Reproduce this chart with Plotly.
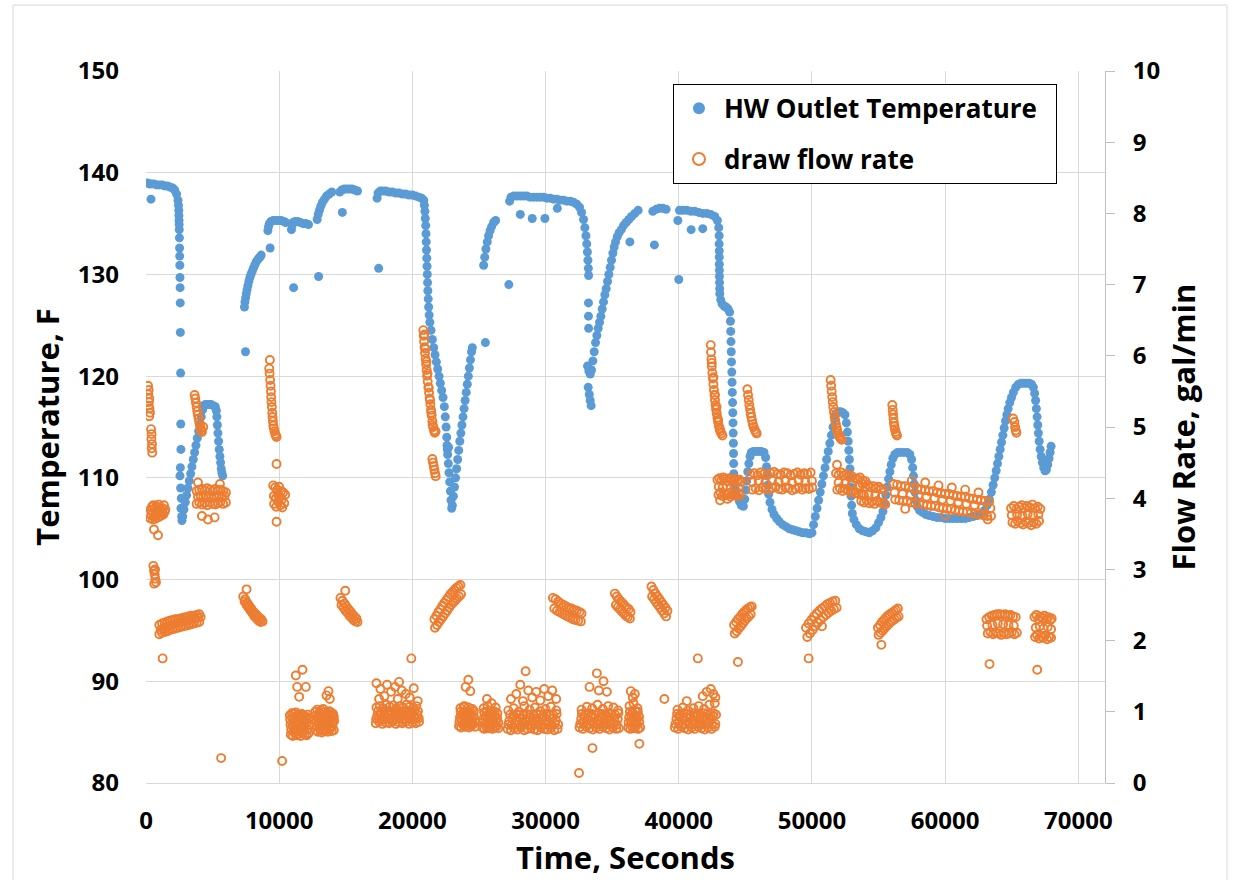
import plotly.graph_objects as go

# ---------------- HW outlet temperature (time s, temperature F) ----------------
TEMP_SEG_1 = [(100,139.0),(250,138.9),(375,137.4),(400,138.9),(600,138.9),(800,138.8),(1000,138.8),(1200,138.8),(1400,138.7),(1600,138.7),(1800,138.6),(2000,138.5),(2150,138.3),(2300,137.9),(2400,137.3),
    (2440,136.8),(2460,136.3),(2470,135.8),(2480,135.3),(2490,134.9),(2500,134.4),(2510,133.6),(2520,132.6),(2530,131.8),(2540,130.9),(2550,129.7),(2560,128.7),(2570,127.2),(2580,124.3),(2600,120.3),(2610,115.3),(2620,112.8),
    (2550,110.2),(2600,109.0),(2650,108.0),(2620,107.0),(2680,106.2),(2700,105.8),(2580,111.0),
    (2750,106.2),(2850,106.9),(2950,107.6),(3050,108.3),(3150,109.0),(3250,109.7),(3350,110.4),(3450,111.1),(3550,111.8),(3650,112.5),(3750,113.2),(3850,113.9),(3950,114.6),(4050,115.3),(4150,116.0),(4250,116.7),(4320,117.1),
    (4450,117.2),(4600,117.2),(4750,117.2),(4900,117.2),(5050,117.1),(5200,117.0),(5280,116.6),
    (5320,116.0),(5360,115.2),(5400,114.4),(5450,113.6),(5500,112.8),(5550,112.1),(5600,111.5),(5650,110.9),(5700,110.5),(5760,110.2)]

TEMP_SEG_2 = [(7390,126.8),(7470,122.4),(7430,127.3),(7480,127.7),(7530,128.1),(7590,128.5),(7650,128.9),(7720,129.3),(7800,129.7),(7880,130.0),(7970,130.3),(8060,130.6),(8160,130.9),(8260,131.2),(8360,131.4),(8460,131.6),(8560,131.7),(8650,131.9),
    (9320,132.6),
    (9150,134.3),(9200,134.7),(9260,135.0),(9380,135.2),(9550,135.3),(9750,135.3),(9950,135.3),(10150,135.3),(10350,135.2),(10480,135.1),
    (11080,128.7),
    (10920,134.4),(10970,134.8),(11050,135.1),(11200,135.2),(11400,135.2),(11600,135.1),(11800,135.0),(12000,135.0),(12200,134.9),
    (12960,129.8),
    (12850,135.4),(12930,135.9),(13020,136.3),(13120,136.7),(13250,137.1),(13400,137.4),(13550,137.7),(13750,137.9),(13950,138.1),
    (14740,136.1),
    (14550,138.1),(14700,138.3),(14880,138.4),(15080,138.4),(15280,138.4),(15480,138.4),(15680,138.3),(15880,138.2),
    (17470,130.6),
    (17350,137.5),(17420,138.0),(17600,138.2),(17800,138.2),(18000,138.2),(18250,138.1),(18500,138.1),(18750,138.0),(19000,138.0),(19250,137.9),(19500,137.9),(19750,137.8),(20000,137.8),(20250,137.7),(20500,137.6),(20700,137.5)]

TEMP_SEG_3 = [(20850,137.3),(20900,136.8),(20940,136.2),(20970,135.5),(21000,134.8),(21020,134.0),(21040,133.2),(21060,132.4),(21080,131.6),(21100,130.8),(21120,130.0),(21140,129.2),(21160,128.4),(21190,127.6),(21220,126.8),(21260,126.0),(21310,125.3),
    (21400,124.5),(21500,123.6),(21600,122.8),(21700,122.1),(21800,121.4),(21900,120.7),(22000,120.0),(22100,119.3),(22200,118.6),(22300,117.9),(22400,117.0),(22470,116.0),(22530,115.0),(22580,114.0),
    (22600,113.2),(22650,112.3),(22700,111.4),(22750,110.5),(22800,109.6),(22850,108.7),(22900,107.8),(22950,107.0),(22620,112.8),(22720,113.0),
    (23000,107.3),(23080,108.2),(23160,109.1),(23240,110.0),(23320,110.9),(23400,111.8),(23480,112.7),(23560,113.6),(23640,114.4),(23720,115.2),(23800,116.0),(23880,116.8),(23960,117.6),(24040,118.4),(24120,119.2),(24200,120.0),(24280,120.8),(24360,121.6),(24440,122.4),(24500,122.8),
    (25480,123.3),
    (25350,130.9),(25430,131.7),(25520,132.5),(25620,133.2),(25720,133.8),(25830,134.3),(25950,134.7),(26100,135.1),(26250,135.3),
    (27240,129.0),
    (27300,137.2),(27400,137.6),(27600,137.7),(27850,137.7),(28100,137.7),(28350,137.7),(28600,137.7),(28850,137.6),(29100,137.6),(29350,137.6),(29600,137.6),(29850,137.6),(30100,137.5),(30350,137.5),(30600,137.4),(30850,137.4),(31100,137.3),(31350,137.3),(31600,137.2),(31850,137.2),(32100,137.1),(32350,136.9),(32550,136.6),(32700,136.1),(32850,135.4),(32950,134.6),(33030,133.8),(33090,133.0),(33140,132.2),(33180,131.4),(33210,130.6),(33230,129.9),
    (28100,135.9),(29000,135.5),(29950,135.5),(30880,136.5),
    (33220,127.2),(33220,125.9),(33230,124.7),
    (33150,121.0),(33250,120.5),(33350,120.2),(33200,118.9),(33280,118.2),(33350,117.6),(33420,117.1),
    (33450,120.6),(33550,121.5),(33650,122.4),(33750,123.3),(33850,124.0),(33950,124.7),(34050,125.3),(34150,125.9),(34250,126.6),(34350,127.3),(34450,128.0),(34550,128.6),(34650,129.3),(34750,130.0),(34850,130.7),(34950,131.4),(35050,132.1),(35150,132.7),(35250,133.2),(35380,133.7),(35520,134.1),(35680,134.4),(35850,134.8),(36050,135.1),(36250,135.4),(36450,135.7),(36700,136.0),(36950,136.3),
    (36330,133.2),(38170,132.9),
    (38050,136.2),(38300,136.4),(38550,136.5),(38800,136.5),(39050,136.4),
    (40000,129.5),
    (39930,135.3),(40050,136.3),(40300,136.3),(40600,136.3),(40900,136.2),(41200,136.2),(41500,136.1),(41800,136.0),(42100,136.0),(42400,135.9),(42700,135.7),(42900,135.3),(43000,134.6),
    (40930,134.4),(41800,134.5),
    (43030,133.8),(43030,133.0),(43040,132.3),(43040,131.7),(43040,131.0),(43050,130.4),(43050,129.8),(43060,129.2),(43070,128.6),(43080,128.1),(43150,127.5),(43250,127.1),(43400,126.9),(43550,126.8),(43700,126.6),(43820,126.3),
    (43880,125.4),(43900,124.4),(43920,123.4),(43940,122.4),(43960,121.4),(43980,120.4),(44000,119.4),(44020,118.4),(44040,117.4),(44055,116.4),(44070,115.4),(44085,114.4),(44100,113.4),(44110,112.4),(44120,111.4),(44130,110.4),(44150,109.5)]

TEMP_SEG_4 = [(44250,108.8),(44400,108.2),(44550,107.7),(44700,107.3),(44850,107.2),(44950,107.9),(45030,108.8),(45100,109.7),(45180,110.6),(45260,111.4),(45350,112.1),(45450,112.5),(45600,112.6),(45800,112.6),(46000,112.6),(46200,112.6),(46400,112.5),(46520,112.0),(46590,111.1),(46640,110.2),(46690,109.3),(46750,108.4),(46850,107.6),(47000,106.9),(47150,106.4),(47350,106.0),(47550,105.7),(47800,105.4),(48050,105.2),(48300,105.0),(48550,104.9),(48800,104.8),(49050,104.7),(49300,104.6),(49550,104.6),(49800,104.5),(50000,104.6),
    (50120,105.4),(50250,106.2),(50380,107.0),(50500,107.8),(50620,108.6),(50740,109.4),(50860,110.2),(50980,111.0),(51100,111.8),(51220,112.6),(51340,113.4),(51460,114.2),(51580,115.0),(51700,115.8),(51820,116.3),(51980,116.5),(52150,116.5),(52320,116.4),(52480,116.2),(52580,115.4),(52660,114.5),(52720,113.6),(52770,112.7),(52810,111.8),(52850,110.9),(52880,110.0),(52910,109.1),(52940,108.2),(52980,107.3),(53030,106.5),(53150,105.9),(53330,105.4),(53550,105.0),(53800,104.8),(54050,104.7),(54300,104.6),(54550,104.8),(54800,105.1),(55000,105.6),(55180,106.1),(55330,106.7),(55450,107.5),(55550,108.3),(55650,109.1),(55750,109.9),(55850,110.6),(55950,111.3),(56070,111.9),(56220,112.3),(56420,112.5),(56650,112.5),(56900,112.5),(57150,112.5),(57350,112.3),(57480,111.8),(57560,111.0),(57620,110.2),(57670,109.4),(57720,108.6),(57790,107.8),(57900,107.2),(58080,106.8),(58300,106.6),(58550,106.4),(58800,106.3),(59100,106.2),(59400,106.1),(59700,106.1),(60000,106.0),(60300,106.0),(60600,106.0),(60900,106.0),(61200,106.0),(61500,106.0),(61800,106.1),(62100,106.2),(62400,106.3),(62700,106.5),(62950,106.8),(63150,107.3),(63320,107.9),(63470,108.6),(63600,109.3),(63720,110.0),(63830,110.7),(63930,111.4),(64030,112.1),(64130,112.8),(64230,113.5),(64330,114.2),(64430,114.9),(64530,115.6),(64630,116.2),(64730,116.8),(64850,117.4),(64980,117.9),(65120,118.4),(65300,118.9),(65500,119.2),(65700,119.3),(65900,119.3),(66100,119.3),(66300,119.3),(66480,119.2),(66620,118.9),(66720,118.3),(66790,117.6),(66850,116.8),(66900,116.0),(66950,115.2),(67000,114.4),(67060,113.6),(67130,112.8),(67210,112.1),(67300,111.5),(67400,111.0),(67500,110.7),(67600,110.8),(67700,111.3),(67800,111.9),(67880,112.5),(67950,113.1)]

# ---------------- draw flow rate (time s, gal/min) ----------------
FLOW_A = [
    (150,5.58),(200,5.52),(170,5.46),(250,5.40),(220,5.35),(190,5.30),(260,5.26),(300,5.20),(240,5.15),(380,4.97),(420,4.90),(400,4.83),(450,4.76),(430,4.70),(470,4.64),
    (250,3.78),(350,3.84),(450,3.88),(550,3.90),(650,3.86),(750,3.82),(850,3.88),(950,3.91),(1050,3.85),(1150,3.80),(1250,3.86),(1350,3.90),(1450,3.84),
    (300,3.72),(400,3.76),(500,3.70),(600,3.74),(700,3.71),(800,3.76),(900,3.73),(1000,3.78),(1100,3.75),(1200,3.79),(1300,3.77),(1400,3.81),
    (600,3.56),(900,3.48),
    (550,3.05),(600,2.98),(650,2.93),(700,2.87),(750,2.82),(620,2.80),(680,3.00),
    (1000,2.22),(1200,2.24),(1400,2.25),(1600,2.27),(1800,2.28),(2000,2.29),(2200,2.30),(2400,2.30),(2600,2.31),(2800,2.32),(3000,2.33),(3200,2.34),(3400,2.35),(3600,2.35),(3800,2.36),(4000,2.37),
    (1000,2.09),(1200,2.11),(1400,2.12),(1600,2.13),(1800,2.15),(2000,2.16),(2200,2.17),(2400,2.18),(2600,2.19),(2800,2.20),(3000,2.21),(3200,2.22),(3400,2.23),(3600,2.24),(3800,2.25),(4000,2.26),
    (1100,2.15),(1300,2.17),(1500,2.19),(1700,2.20),(1900,2.22),(2100,2.23),(2300,2.24),(2500,2.25),(2700,2.26),(2900,2.27),(3100,2.28),(3300,2.29),(3500,2.30),(3700,2.31),(3900,2.32),(4100,2.33),
    (1250,1.75),
    (3650,5.45),(3700,5.40),(3750,5.34),(3800,5.28),(3850,5.22),(3900,5.17),(3950,5.12),(4000,5.07),(4050,5.02),(4100,4.98),(4150,4.95),(4200,4.93),(4300,5.00),
    (3800,4.10),(4000,4.12),(4200,4.13),(4400,4.11),(4600,4.14),(4800,4.12),(5000,4.10),(5200,4.13),(5400,4.11),(5600,4.12),(5800,4.10),(6000,4.08),
    (3800,3.92),(4000,3.94),(4200,3.91),(4400,3.93),(4600,3.90),(4800,3.94),(5000,3.92),(5200,3.91),(5400,3.93),(5600,3.95),(5800,3.92),(6000,3.94),
    (3900,4.02),(4100,4.03),(4300,4.01),(4500,4.04),(4700,4.02),(4900,4.01),(5100,4.03),(5300,4.02),(5500,4.04),(5700,4.01),(5900,4.03),
    (4200,3.75),(4650,3.70),(5150,3.73),(3900,4.22),(5550,4.20),
    (7300,2.62),(7450,2.58),(7600,2.53),(7750,2.49),(7900,2.45),(8050,2.41),(8200,2.38),(8350,2.35),(8500,2.32),(8650,2.30),
    (7400,2.55),(7550,2.50),(7700,2.46),(7850,2.42),(8000,2.38),(8150,2.34),(8300,2.31),(8450,2.28),(8600,2.26),(8750,2.27),(7550,2.72),
    (9300,5.94),(9250,5.82),(9280,5.75),(9320,5.66),(9350,5.58),(9380,5.50),(9400,5.42),(9420,5.35),(9450,5.28),(9480,5.20),(9500,5.14),(9530,5.08),(9560,5.02),(9600,4.98),(9650,4.94),(9700,4.90),(9750,4.88),(9800,4.86),
    (9800,4.48),
    (9550,4.18),(9700,4.15),(9850,4.12),(10000,4.16),(10150,4.10),(10300,4.08),(10450,4.05),
    (9620,3.92),(9780,3.88),(9920,3.95),(10080,3.90),(10230,3.87),(10380,3.93),
    (9600,4.03),(9750,4.00),(9900,4.05),(10050,4.02),(10200,3.98),(9800,3.67),
    (10800,0.95),(10950,0.98),(11100,0.97),(11250,0.99),(11400,0.96),(11550,0.94),(11700,0.97),(11850,0.95),(12000,0.93),(12150,0.96),(12250,0.92),
    (10870,0.68),(11020,0.66),(11170,0.70),(11320,0.67),(11470,0.69),(11620,0.66),(11770,0.70),(11920,0.68),(12070,0.67),(12200,0.70),
    (10850,0.82),(11000,0.80),(11150,0.84),(11300,0.81),(11450,0.83),(11600,0.79),(11750,0.82),(11900,0.80),(12050,0.84),(12200,0.81),
    (11250,1.51),(11750,1.59),(11350,1.35),(12000,1.35),(11500,1.21),
    (12700,1.00),(12850,1.03),(13000,0.99),(13150,1.02),(13300,1.04),(13450,1.00),(13600,0.98),(13750,1.01),(13900,0.99),(14050,0.97),
    (12750,0.74),(12900,0.72),(13050,0.75),(13200,0.71),(13350,0.73),(13500,0.74),(13650,0.72),(13800,0.75),(13950,0.73),(14100,0.74),
    (12780,0.87),(12930,0.85),(13080,0.88),(13230,0.86),(13380,0.89),(13530,0.87),(13680,0.85),(13830,0.88),(13980,0.86),(14130,0.87),
    (13550,1.23),(13800,1.18),(13700,1.29),
    (14600,2.60),(14750,2.56),(14900,2.52),(15050,2.48),(15200,2.44),(15350,2.41),(15500,2.37),(15650,2.34),(15800,2.31),
    (14680,2.50),(14830,2.46),(14980,2.42),(15130,2.39),(15280,2.35),(15430,2.32),(15580,2.29),(15730,2.27),(15880,2.26),(14960,2.70),
    (17250,0.84),(17500,0.86),(17750,0.83),(18000,0.85),(18250,0.84),(18500,0.86),(18750,0.83),(19000,0.85),(19250,0.84),(19500,0.86),(19750,0.83),(20000,0.85),(20250,0.84),(20500,0.86),
    (17370,0.95),(17620,0.97),(17870,0.94),(18120,0.96),(18370,0.98),(18620,0.95),(18870,0.97),(19120,0.94),(19370,0.96),(19620,0.95),(19870,0.97),(20120,0.94),(20370,0.96),
    (17300,1.06),(17550,1.08),(17800,1.05),(18050,1.10),(18300,1.07),(18550,1.09),(18800,1.05),(19050,1.08),(19300,1.06),(19550,1.10),(19800,1.07),(20050,1.05),(20300,1.08),
    (17300,1.40),(17600,1.32),(17900,1.22),(18100,1.38),(18400,1.28),(18700,1.35),(18900,1.18),(19200,1.30),(19500,1.25),(19800,1.20),(20100,1.33),(20400,1.15),(17500,1.18),(19000,1.42),
    (19920,1.75),(5640,0.35),(10220,0.31)]

FLOW_B = [
    (20820,6.36),(20850,6.28),(20880,6.20),(20910,6.12),(20950,6.04),(20990,5.96),(21030,5.88),(21070,5.80),(21110,5.72),(21150,5.64),(21200,5.56),(21250,5.48),(21300,5.40),(21350,5.32),(21400,5.24),(21450,5.16),(21500,5.08),(21560,5.00),(21620,4.95),(21680,4.92),(21740,4.94),
    (20900,6.30),(20980,6.10),(21060,5.92),(21140,5.75),(21230,5.55),(21320,5.38),(21420,5.20),(21520,5.03),
    (21500,4.55),(21550,4.50),(21600,4.45),(21650,4.40),(21700,4.35),(21750,4.31),
    (21650,2.30),(21800,2.35),(21950,2.40),(22100,2.44),(22250,2.49),(22400,2.53),(22550,2.57),(22700,2.61),(22850,2.65),(23000,2.68),(23150,2.71),(23300,2.74),(23450,2.76),(23600,2.78),
    (21700,2.18),(21850,2.22),(22000,2.26),(22150,2.30),(22300,2.34),(22450,2.38),(22600,2.42),(22750,2.46),(22900,2.50),(23050,2.53),(23200,2.56),(23350,2.59),(23500,2.62),(23650,2.65),
    (23500,0.80),(23650,0.78),(23800,0.82),(23950,0.79),(24100,0.81),(24250,0.78),(24400,0.80),(24550,0.82),(24700,0.79),
    (23570,0.92),(23720,0.95),(23870,0.93),(24020,0.96),(24170,0.94),(24320,0.92),(24470,0.95),(24620,0.93),
    (23600,1.05),(23900,1.08),(24200,1.06),(24500,1.04),(24000,1.35),(24350,1.29),(23850,1.07),(24200,1.45),
    (25250,0.78),(25400,0.76),(25550,0.79),(25700,0.77),(25850,0.80),(26000,0.76),(26150,0.78),(26300,0.79),(26450,0.77),
    (25320,0.90),(25470,0.93),(25620,0.91),(25770,0.94),(25920,0.92),(26070,0.90),(26220,0.93),(26370,0.91),
    (25350,1.05),(25650,1.08),(25950,1.12),(26250,1.06),(25600,1.18),
    (27150,0.76),(27400,0.74),(27650,0.77),(27900,0.75),(28150,0.78),(28400,0.74),(28650,0.76),(28900,0.77),(29150,0.75),(29400,0.74),(29650,0.78),(29900,0.76),(30150,0.75),(30400,0.77),(30650,0.74),(30900,0.76),
    (27270,0.87),(27520,0.90),(27770,0.88),(28020,0.91),(28270,0.86),(28520,0.89),(28770,0.92),(29020,0.88),(29270,0.90),(29520,0.87),(29770,0.91),(30020,0.89),(30270,0.86),(30520,0.90),(30770,0.88),
    (27200,1.02),(27600,1.05),(28000,1.00),(28400,1.08),(28800,1.03),(29200,1.06),(29600,1.01),(30000,1.04),(30400,1.07),(30800,1.02),
    (27400,1.18),(27800,1.25),(28300,1.15),(28500,1.57),(28700,1.30),(29000,1.20),(29300,1.28),(29600,1.16),(29900,1.32),(30200,1.22),(30500,1.30),(30800,1.18),(28100,1.38),
    (30550,2.60),(30750,2.58),(30950,2.55),(31150,2.52),(31350,2.50),(31550,2.48),(31750,2.46),(31950,2.45),(32150,2.43),(32350,2.42),(32550,2.40),(32700,2.38),
    (30650,2.45),(30850,2.42),(31050,2.40),(31250,2.38),(31450,2.36),(31650,2.34),(31850,2.32),(32050,2.30),(32250,2.29),(32450,2.28),(32650,2.27),
    (32550,0.78),(32800,0.76),(33050,0.79),(33300,0.77),(33550,0.75),(33800,0.78),(34050,0.76),(34300,0.79),(34550,0.77),(34800,0.75),(35050,0.78),(35300,0.76),(35500,0.77),
    (32670,0.90),(32920,0.92),(33170,0.89),(33420,0.93),(33670,0.91),(33920,0.88),(34170,0.92),(34420,0.90),(34670,0.93),(34920,0.89),(35170,0.91),(35420,0.90),
    (32700,1.03),(33100,1.07),(33500,1.05),(33900,1.10),(34300,1.04),(34700,1.08),(35100,1.06),(35450,1.02),
    (33850,1.54),(34350,1.43),(33300,1.35),(34000,1.30),(34600,1.28),(33520,0.49),(32510,0.14),(37040,0.55),
    (35200,2.66),(35350,2.62),(35500,2.58),(35650,2.55),(35800,2.52),(35950,2.49),(36100,2.46),(36250,2.44),(36380,2.40),
    (35280,2.50),(35430,2.47),(35580,2.44),(35730,2.41),(35880,2.38),(36030,2.35),(36180,2.33),(36330,2.31),
    (36200,0.78),(36350,0.76),(36500,0.79),(36650,0.77),(36800,0.80),(36950,0.76),(37100,0.78),
    (36270,0.92),(36420,0.95),(36570,0.90),(36720,0.94),(36870,0.91),(37020,0.93),
    (36300,1.08),(36600,1.12),(36900,1.05),(36400,1.29),(36700,1.25),(36550,1.20),
    (37950,2.76),(38100,2.71),(38250,2.66),(38400,2.62),(38550,2.58),(38700,2.54),(38850,2.50),(39000,2.46),(39150,2.42),
    (38000,2.62),(38150,2.58),(38300,2.54),(38450,2.50),(38600,2.46),(38750,2.42),(38900,2.38),(39050,2.34),
    (38920,1.18),(41430,1.75),
    (39700,0.78),(39950,0.76),(40200,0.79),(40450,0.77),(40700,0.75),(40950,0.78),(41200,0.76),(41450,0.79),(41700,0.77),(41950,0.75),(42200,0.78),(42450,0.76),(42700,0.79),
    (39820,0.90),(40070,0.93),(40320,0.89),(40570,0.92),(40820,0.91),(41070,0.88),(41320,0.93),(41570,0.90),(41820,0.92),(42070,0.89),(42320,0.91),(42570,0.94),(42800,0.96),
    (39900,1.03),(40300,1.06),(40700,1.02),(41100,1.05),(41500,1.08),(41900,1.04),(42300,1.10),(42700,1.12),
    (42400,1.32),(42600,1.25),(41800,1.22),(40600,1.15),(42100,1.28),(42750,1.20),
    (42400,6.15),(42420,6.05),(42450,5.95),(42480,5.85),(42520,5.76),(42560,5.68),(42600,5.60),(42640,5.52),(42680,5.45),(42720,5.38),(42760,5.31),(42800,5.25),(42850,5.19),(42900,5.13),(42950,5.07),(43000,5.02),(43060,4.98),(43120,4.94),(43200,4.91),(43280,4.88),
    (42480,5.90),(42600,5.70),(42720,5.45),(42840,5.28),(42960,5.10),(43080,4.97),
    (42900,4.26),(43050,4.28),(43200,4.25),(43350,4.29),(43500,4.27),(43650,4.24),(43800,4.28),(43950,4.26),(44100,4.25),(44250,4.27),(44400,4.24),(44550,4.26),(44700,4.23),
    (42980,4.05),(43130,4.08),(43280,4.03),(43430,4.06),(43580,4.04),(43730,4.07),(43880,4.02),(44030,4.05),(44180,4.06),(44330,4.03),(44480,4.07),(44630,4.04),
    (43000,4.16),(43300,4.15),(43600,4.17),(43900,4.14),(44200,4.16),(44500,4.15),(43650,3.99),(43100,3.97)]

FLOW_C = [
    (45150,5.53),(45200,5.45),(45250,5.38),(45300,5.31),(45350,5.25),(45400,5.19),(45450,5.14),(45500,5.09),(45560,5.04),(45620,5.00),(45700,4.96),(45780,4.93),(45850,4.91),
    (45400,4.33),(45650,4.35),(45900,4.32),(46150,4.36),(46400,4.34),(46650,4.33),(46900,4.35),(47150,4.37),(47400,4.34),(47650,4.33),(47900,4.36),(48150,4.35),(48400,4.32),(48650,4.34),(48900,4.36),(49150,4.33),(49400,4.35),(49650,4.34),(49900,4.36),
    (45520,4.12),(45770,4.14),(46020,4.11),(46270,4.15),(46520,4.13),(46770,4.12),(47020,4.14),(47270,4.16),(47520,4.13),(47770,4.12),(48020,4.15),(48270,4.14),(48520,4.11),(48770,4.13),(49020,4.15),(49270,4.12),(49520,4.14),(49770,4.13),(50020,4.15),
    (45500,4.23),(46000,4.24),(46500,4.22),(47000,4.25),(47500,4.23),(48000,4.24),(48500,4.22),(49000,4.25),(49500,4.23),(50000,4.24),
    (44150,2.22),(44300,2.26),(44450,2.30),(44600,2.33),(44750,2.37),(44900,2.40),(45050,2.43),(45200,2.45),(45350,2.47),(45480,2.48),
    (44200,2.10),(44350,2.13),(44500,2.17),(44650,2.20),(44800,2.24),(44950,2.28),(45100,2.31),(45250,2.34),(45400,2.37),(44440,1.70),
    (49550,2.18),(49750,2.24),(49950,2.29),(50150,2.34),(50350,2.38),(50550,2.42),(50750,2.45),(50950,2.48),(51150,2.51),(51350,2.53),(51550,2.55),(51750,2.56),
    (49650,2.05),(49850,2.10),(50050,2.15),(50250,2.20),(50450,2.25),(50650,2.29),(50850,2.33),(51050,2.36),(51250,2.39),(51450,2.42),(51650,2.44),(51850,2.46),
    (49750,1.75),(50750,2.20),
    (51400,5.66),(51440,5.58),(51480,5.50),(51520,5.42),(51560,5.35),(51600,5.28),(51650,5.21),(51700,5.15),(51750,5.09),(51800,5.04),(51850,4.99),(51900,4.95),(51960,4.91),(52020,4.88),(52080,4.86),(52150,4.84),(52230,4.82),
    (51880,4.47),
    (51800,4.35),(52000,4.33),(52200,4.36),(52400,4.32),(52600,4.34),(52800,4.30),(53000,4.31),(53200,4.28),(53400,4.27),(53600,4.29),(53800,4.25),(54000,4.24),
    (51900,4.12),(52100,4.14),(52300,4.10),(52500,4.13),(52700,4.11),(52900,4.08),(53100,4.10),(53300,4.07),(53500,4.06),(53700,4.05),(53900,4.04),
    (52000,4.22),(52500,4.21),(53000,4.20),(53500,4.17),
    (53600,4.18),(53800,4.20),(54000,4.16),(54200,4.19),(54400,4.15),(54600,4.17),(54800,4.14),(55000,4.16),(55200,4.13),(55400,4.12),
    (53700,3.96),(53900,3.94),(54100,3.97),(54300,3.93),(54500,3.95),(54700,3.92),(54900,3.96),(55100,3.94),(55300,3.93),(55500,3.91),
    (53750,4.06),(54250,4.05),(54750,4.04),(55250,4.03),
    (56030,5.31),(56060,5.24),(56090,5.18),(56120,5.12),(56150,5.06),(56190,5.01),(56230,4.97),(56280,4.93),(56330,4.90),(56380,4.88),
    (54950,2.18),(55100,2.22),(55250,2.26),(55400,2.29),(55550,2.32),(55700,2.35),(55850,2.37),(56000,2.39),(56150,2.41),(56300,2.43),(56450,2.45),
    (55000,2.08),(55150,2.11),(55300,2.14),(55450,2.17),(55600,2.20),(55750,2.23),(55900,2.26),(56050,2.28),(56200,2.30),(56350,2.32),(56500,2.34),
    (55210,1.94),
    (56100,4.20),(56400,4.19),(56700,4.17),(57000,4.17),(57300,4.15),(57600,4.14),(57900,4.14),(58200,4.12),(58500,4.11),(58800,4.10),(59100,4.10),(59400,4.08),(59700,4.07),(60000,4.06),(60300,4.06),(60600,4.04),(60900,4.03),(61200,4.02),(61500,4.02),(61800,4.00),(62100,3.99),(62400,3.98),(62700,3.97),(63000,3.96),(63300,3.95),
    (56250,3.98),(56550,3.97),(56850,3.96),(57150,3.96),(57450,3.94),(57750,3.93),(58050,3.93),(58350,3.91),(58650,3.90),(58950,3.89),(59250,3.89),(59550,3.87),(59850,3.86),(60150,3.85),(60450,3.85),(60750,3.83),(61050,3.82),(61350,3.81),(61650,3.81),(61950,3.79),(62250,3.78),(62550,3.77),(62850,3.76),(63150,3.75),(63450,3.75),
    (56200,4.08),(56800,4.06),(57400,4.05),(58000,4.04),(58600,4.02),(59200,4.00),(59800,3.98),(60400,3.96),(61000,3.94),(61600,3.92),(62200,3.90),(62800,3.88),(63400,3.86),
    (57500,4.25),(58500,4.22),(59500,4.18),(60500,4.15),(61500,4.12),(62500,4.08),(57000,3.85),(60000,3.76),(63200,3.70),
    (65100,5.12),(65200,5.07),(65250,5.00),(65300,4.95),(65350,4.92),
    (64950,3.86),(65150,3.89),(65350,3.85),(65550,3.88),(65750,3.90),(65950,3.86),(66150,3.89),(66350,3.87),(66550,3.91),(66750,3.86),(66950,3.88),(67150,3.85),
    (65050,3.66),(65250,3.64),(65450,3.68),(65650,3.65),(65850,3.63),(66050,3.67),(66250,3.65),(66450,3.62),(66650,3.66),(66850,3.64),(67050,3.68),
    (65000,3.76),(65400,3.77),(65800,3.75),(66200,3.78),(66600,3.76),(67000,3.77),
    (63100,2.30),(63300,2.33),(63500,2.35),(63700,2.36),(63900,2.37),(64100,2.37),(64300,2.36),(64500,2.37),(64700,2.35),(64900,2.36),(65100,2.34),(65300,2.33),
    (63200,2.10),(63400,2.12),(63600,2.09),(63800,2.11),(64000,2.10),(64200,2.08),(64400,2.11),(64600,2.09),(64800,2.10),(65000,2.12),(65200,2.09),(65380,2.11),
    (63150,2.21),(63550,2.22),(63950,2.24),(64350,2.23),(64750,2.22),(65150,2.21),(63330,1.67),
    (66700,2.33),(66850,2.36),(67000,2.30),(67150,2.34),(67300,2.31),(67450,2.35),(67600,2.30),(67750,2.33),(67900,2.29),(68000,2.31),
    (66750,2.05),(66900,2.08),(67050,2.03),(67200,2.06),(67350,2.04),(67500,2.07),(67650,2.02),(67800,2.05),(67950,2.04),
    (66800,2.18),(67100,2.20),(67400,2.17),(67700,2.19),(67950,2.16),(66910,1.59)]

# additional readings inside the dense low-flow clusters
FLOW_D = [
    (10900,0.75),(11100,0.74),(11300,0.76),(11500,0.75),(11700,0.74),(11900,0.76),(12100,0.75),
    (10820,0.89),(11020,0.90),(11220,0.88),(11420,0.89),(11620,0.90),(11820,0.88),(12020,0.89),(12220,0.90),
    (12800,0.80),(13000,0.81),(13200,0.79),(13400,0.80),(13600,0.81),(13800,0.79),(14000,0.80),
    (12720,0.94),(12920,0.93),(13120,0.95),(13320,0.94),(13520,0.93),(13720,0.95),(13920,0.94),(14100,0.93),
    (17280,0.90),(17530,0.91),(17780,0.89),(18030,0.90),(18280,0.91),(18530,0.89),(18780,0.90),(19030,0.91),(19280,0.89),(19530,0.90),(19780,0.91),(20030,0.89),(20280,0.90),(20480,0.91),
    (17420,1.01),(17670,1.00),(17920,1.02),(18170,1.01),(18420,1.00),(18670,1.02),(18920,1.01),(19170,1.00),(19420,1.02),(19670,1.01),(19920,1.00),(20170,1.02),(20420,1.01),
    (23530,0.86),(23730,0.87),(23930,0.85),(24130,0.86),(24330,0.87),(24530,0.85),(24700,0.86),
    (23620,1.00),(23820,0.99),(24020,1.01),(24220,1.00),(24420,0.99),(24620,1.01),
    (25280,0.85),(25480,0.84),(25680,0.86),(25880,0.85),(26080,0.84),(26280,0.86),(26450,0.85),
    (25380,0.99),(25580,1.00),(25780,0.98),(25980,0.99),(26180,1.00),(26380,0.98),
    (27200,0.82),(27450,0.81),(27700,0.83),(27950,0.82),(28200,0.81),(28450,0.83),(28700,0.82),(28950,0.81),(29200,0.83),(29450,0.82),(29700,0.81),(29950,0.83),(30200,0.82),(30450,0.81),(30700,0.83),(30950,0.82),
    (27330,0.96),(27580,0.95),(27830,0.97),(28080,0.96),(28330,0.95),(28580,0.97),(28830,0.96),(29080,0.95),(29330,0.97),(29580,0.96),(29830,0.95),(30080,0.97),(30330,0.96),(30580,0.95),(30830,0.97),
    (32600,0.83),(32850,0.84),(33100,0.82),(33350,0.83),(33600,0.84),(33850,0.82),(34100,0.83),(34350,0.84),(34600,0.82),(34850,0.83),(35100,0.84),(35350,0.82),
    (32720,0.97),(32970,0.96),(33220,0.98),(33470,0.97),(33720,0.96),(33970,0.98),(34220,0.97),(34470,0.96),(34720,0.98),(34970,0.97),(35220,0.96),(35470,0.98),
    (36230,0.85),(36430,0.86),(36630,0.84),(36830,0.85),(37030,0.86),
    (36330,1.00),(36530,0.99),(36730,1.01),(36930,1.00),
    (39750,0.83),(40000,0.84),(40250,0.82),(40500,0.83),(40750,0.84),(41000,0.82),(41250,0.83),(41500,0.84),(41750,0.82),(42000,0.83),(42250,0.84),(42500,0.82),(42750,0.83),
    (39870,0.97),(40120,0.96),(40370,0.98),(40620,0.97),(40870,0.96),(41120,0.98),(41370,0.97),(41620,0.96),(41870,0.98),(42120,0.97),(42370,0.96),(42620,0.98)]

X_TICKS = [0, 10000, 20000, 30000, 40000, 50000, 60000, 70000]
Y_TICKS = [80, 90, 100, 110, 120, 130, 140, 150]
Y2_TICKS = list(range(0, 11))

temp_pts = TEMP_SEG_1 + TEMP_SEG_2 + TEMP_SEG_3 + TEMP_SEG_4
flow_pts = FLOW_A + FLOW_B + FLOW_C + FLOW_D
temp_time = [p[0] for p in temp_pts]
temp_val = [p[1] for p in temp_pts]
flow_time = [p[0] for p in flow_pts]
flow_val = [p[1] for p in flow_pts]

FONT = "Open Sans"
BLUE = "#5B9BD5"
ORANGE = "#ED7D31"

fig = go.Figure()
fig.add_trace(go.Scatter(
    x=temp_time, y=temp_val, mode="markers", name="HW Outlet Temperature\u00a0\u00a0",
    marker=dict(color=BLUE, size=9, line=dict(width=0)),
    legendgroup="a", yaxis="y"))
fig.add_trace(go.Scatter(
    x=flow_time, y=flow_val, mode="markers", name="draw flow rate",
    marker=dict(symbol="circle-open", color=ORANGE, size=8, line=dict(width=1.9, color=ORANGE)),
    legendgroup="b", yaxis="y2"))

tickfont = dict(family=FONT, size=24, color="#000000", weight="bold")
titlefont = dict(family=FONT, size=31, color="#000000", weight="bold")

fig.update_layout(
    width=1233, height=880,
    margin=dict(l=146, r=128, t=71, b=97),
    paper_bgcolor="white", plot_bgcolor="white",
    showlegend=True,
    legend=dict(x=0.5495, y=0.982, xanchor="left", yanchor="top",
                bgcolor="white", bordercolor="#000000", borderwidth=1,
                font=dict(family=FONT, size=26, color="#000000", weight="bold"),
                tracegroupgap=14, traceorder="grouped", itemsizing="constant", itemwidth=40),
    xaxis=dict(range=[0, 72000], tickvals=X_TICKS, ticktext=[str(v) for v in X_TICKS],
               showgrid=True, gridcolor="#d9d9d9", gridwidth=1, zeroline=False,
               showline=True, linecolor="#d9d9d9", linewidth=1, ticks="",
               tickfont=tickfont, ticklabelstandoff=16,
               title=dict(text="Time, Seconds", font=titlefont, standoff=8)),
    yaxis=dict(range=[80, 150], tickvals=Y_TICKS, showgrid=True, gridcolor="#d9d9d9",
               gridwidth=1, zeroline=False, showline=False, ticks="",
               tickfont=tickfont, ticklabelstandoff=26,
               title=dict(text="Temperature, F", font=titlefont, standoff=8)),
    yaxis2=dict(range=[0, 10], tickvals=Y2_TICKS, overlaying="y", side="right",
                showgrid=False, zeroline=False, showline=True, linecolor="#bfbfbf", linewidth=1,
                ticks="outside", ticklen=9, tickcolor="#bfbfbf",
                tickfont=tickfont, ticklabelstandoff=13,
                title=dict(text="Flow Rate, gal/min", font=titlefont, standoff=14)),
    shapes=[dict(type="rect", xref="paper", yref="paper",
                 x0=-0.1387, x1=1.1272, y0=-0.16, y1=1.0926,
                 line=dict(color="#d9d9d9", width=1), fillcolor="rgba(0,0,0,0)", layer="below")],
)

fig.write_html("out.html")
